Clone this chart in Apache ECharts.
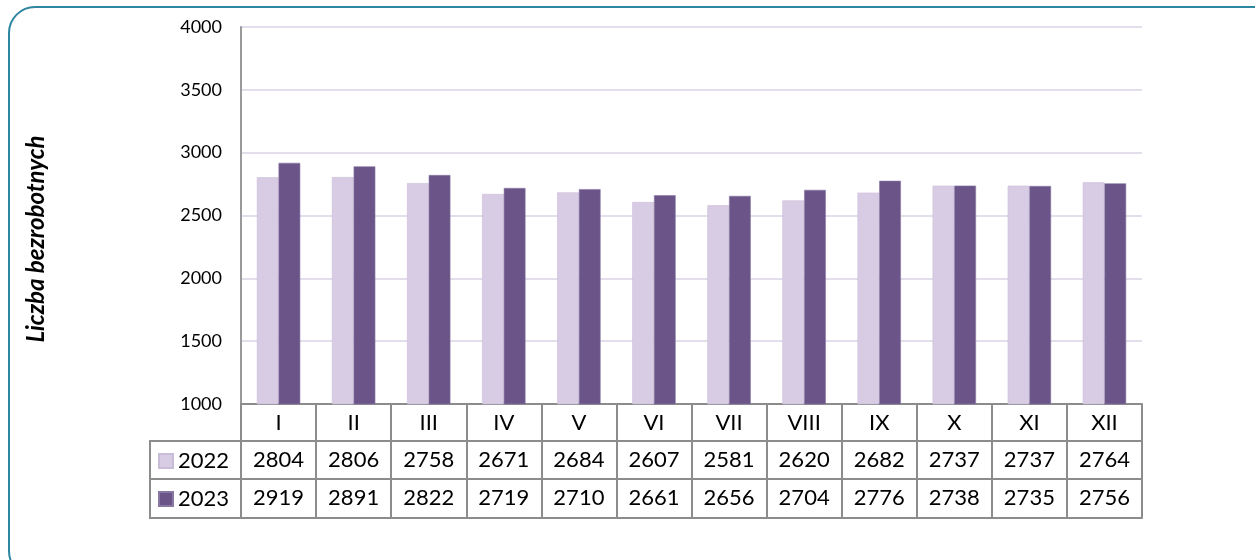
<!DOCTYPE html>
<html>
<head>
<meta charset="utf-8">
<script src="https://cdn.jsdelivr.net/npm/echarts@6/dist/echarts.min.js"></script>
<style>
  html, body { margin: 0; padding: 0; background: #fff; }
  #chart { width: 1255px; height: 560px; }
</style>
</head>
<body>
<div id="chart"></div>
<script>
const months = ['I', 'II', 'III', 'IV', 'V', 'VI', 'VII', 'VIII', 'IX', 'X', 'XI', 'XII']
const years = ['2022', '2023']
const values2022 = [2804, 2806, 2758, 2671, 2684, 2607, 2581, 2620, 2682, 2737, 2737, 2764]
const values2023 = [2919, 2891, 2822, 2719, 2710, 2661, 2656, 2704, 2776, 2738, 2735, 2756]
const yTicks = { min: 1000, max: 4000, step: 500 }

const colors = ['#d8cce4', '#6a5488']
const tableLine = '#8c8c8c'
const font = 'Lato'

// one category axis per table row, stacked under the plot
function tableAxis(labels, offset, tickLen, show) {
    return {
        type: 'category',
        data: labels,
        position: 'bottom',
        offset: offset,
        axisLine: { show: true, lineStyle: { color: tableLine, width: 2 } },
        axisTick: { show: show, interval: 0, length: tickLen, lineStyle: { color: tableLine, width: 2 } },
        axisLabel: { show: show, interval: 0, margin: 8, color: '#000', fontFamily: font, fontSize: 22 },
        splitLine: { show: false }
    }
}

const chart = echarts.init(document.getElementById('chart'))

const option = {
    animation: false,
    color: colors,
    grid: { left: 241, right: 113, top: 27, bottom: 156 },
    legend: {
        orient: 'vertical',
        left: 153,
        top: 444,
        icon: 'rect',
        itemWidth: 14,
        itemHeight: 14,
        itemGap: 14,
        selectedMode: false,
        textStyle: { color: '#000', fontFamily: font, fontSize: 22, lineHeight: 24 },
        data: years
    },
    xAxis: [
        tableAxis(months, 0, 37, true),
        tableAxis(values2022.map(String), 37, 38, true),
        tableAxis(values2023.map(String), 75, 39, true),
        tableAxis(months, 114, 0, false)
    ],
    yAxis: {
        type: 'value',
        min: yTicks.min,
        max: yTicks.max,
        interval: yTicks.step,
        axisLine: { show: true, lineStyle: { color: '#9a9a9a', width: 2 } },
        axisTick: { show: false },
        axisLabel: { color: '#000', fontFamily: font, fontSize: 18, margin: 19, formatter: v => String(v) },
        splitLine: { lineStyle: { color: '#e4deec', width: 2 } }
    },
    series: [
        {
            name: years[0], type: 'bar', xAxisIndex: 0,
            data: values2022, barWidth: 21.7, barGap: '0%',
            itemStyle: { borderColor: '#c9bcd8', borderWidth: 0.6 }
        },
        {
            name: years[1], type: 'bar', xAxisIndex: 0,
            data: values2023, barWidth: 21.7, barGap: '0%',
            itemStyle: { borderColor: '#8a78a4', borderWidth: 0.6 }
        }
    ],
    graphic: [
        // rounded frame
        {
            type: 'rect', silent: true,
            shape: { x: 9, y: 7, width: 1270, height: 570, r: 26 },
            style: { fill: 'none', stroke: '#2e86a0', lineWidth: 2 }
        },
        // row-header cells of the data table
        { type: 'line', shape: { x1: 150, y1: 441, x2: 241, y2: 441 }, style: { stroke: tableLine, lineWidth: 2 } },
        { type: 'line', shape: { x1: 150, y1: 479, x2: 241, y2: 479 }, style: { stroke: tableLine, lineWidth: 2 } },
        { type: 'line', shape: { x1: 150, y1: 518, x2: 241, y2: 518 }, style: { stroke: tableLine, lineWidth: 2 } },
        { type: 'line', shape: { x1: 150, y1: 440, x2: 150, y2: 519 }, style: { stroke: tableLine, lineWidth: 2 } },
        // axis title
        {
            type: 'text',
            x: 36, y: 239, rotation: Math.PI / 2,
            style: {
                text: 'Liczba bezrobotnych',
                fill: '#000',
                font: 'italic bold 24px Lato',
                align: 'center',
                verticalAlign: 'middle'
            }
        }
    ]
}

chart.setOption(option)
</script>
</body>
</html>
